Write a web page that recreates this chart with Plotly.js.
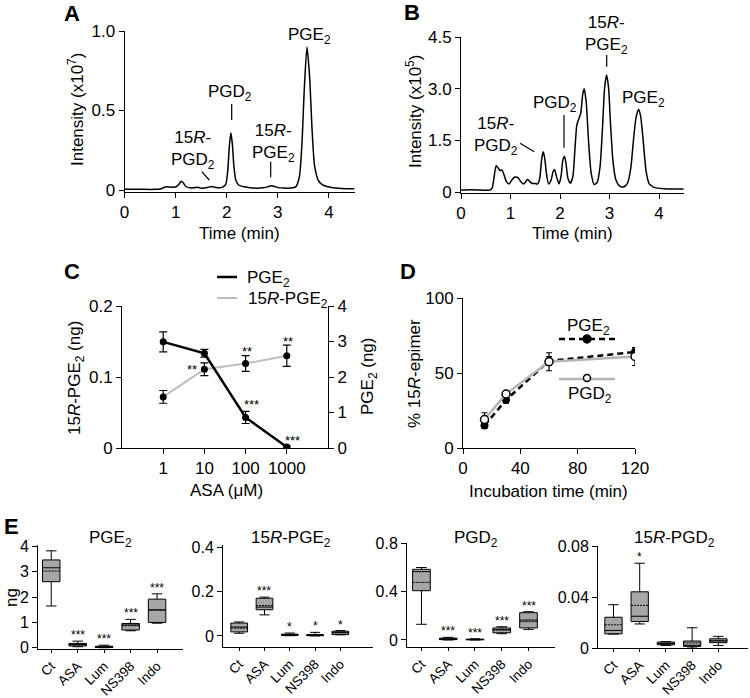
<!DOCTYPE html>
<html><head><meta charset="utf-8">
<script src="https://cdn.plot.ly/plotly-3.0.1.min.js"></script>
<style>html,body{margin:0;padding:0;background:#fff}#chart{width:750px;height:698px}</style>
</head><body><div id="chart"></div>
<script>
// ---------- DATA ----------
// Panel A: chromatogram, intensity x10^7
const timeA = [0.00,0.30,0.60,0.70,0.76,0.82,0.88,0.95,1.02,1.07,1.11,1.15,1.20,1.28,1.36,1.42,1.48,1.55,1.62,1.70,1.76,1.84,1.92,1.98,2.02,2.05,2.08,2.11,2.14,2.18,2.24,2.35,2.50,2.65,2.75,2.82,2.88,2.94,3.00,3.12,3.25,3.35,3.42,3.47,3.52,3.57,3.62,3.67,3.72,3.80,3.90,4.05,4.25,4.50];
const intensityA = [0.004,0.004,0.004,0.006,0.014,0.020,0.019,0.017,0.022,0.038,0.055,0.045,0.022,0.014,0.014,0.018,0.013,0.012,0.016,0.022,0.018,0.014,0.018,0.035,0.12,0.27,0.36,0.29,0.15,0.06,0.03,0.02,0.013,0.012,0.015,0.022,0.027,0.022,0.015,0.012,0.013,0.02,0.08,0.28,0.65,0.90,0.72,0.38,0.15,0.055,0.028,0.015,0.010,0.008];
// Panel B: chromatogram, intensity x10^5
const timeB = [0.00,0.20,0.40,0.58,0.63,0.67,0.71,0.75,0.79,0.83,0.87,0.92,0.97,1.03,1.09,1.15,1.21,1.26,1.30,1.34,1.38,1.43,1.50,1.55,1.59,1.63,1.66,1.69,1.73,1.77,1.82,1.86,1.89,1.93,1.98,2.02,2.06,2.09,2.12,2.16,2.21,2.26,2.30,2.34,2.38,2.42,2.46,2.49,2.53,2.58,2.63,2.69,2.75,2.81,2.86,2.90,2.94,2.98,3.02,3.07,3.13,3.20,3.28,3.36,3.43,3.49,3.54,3.59,3.63,3.68,3.74,3.80,3.90,4.10,4.30,4.50];
const intensityB = [0.06,0.07,0.06,0.06,0.12,0.45,0.77,0.70,0.63,0.64,0.50,0.30,0.24,0.36,0.44,0.42,0.30,0.24,0.28,0.37,0.32,0.26,0.25,0.24,0.40,0.95,1.17,1.00,0.50,0.24,0.35,0.60,0.66,0.45,0.24,0.45,0.95,1.04,0.85,0.40,0.26,0.45,1.20,1.95,2.12,2.30,2.85,3.00,2.60,1.40,0.55,0.22,0.28,0.75,1.90,3.00,3.40,3.05,2.00,0.90,0.35,0.18,0.15,0.25,0.70,1.60,2.20,2.40,2.20,1.50,0.60,0.25,0.14,0.10,0.09,0.09];
// Panel C: ASA dose response
const asaConc = [1, 10, 100, 1000];
const asaTickText = ['1', '10', '100', '1000'];
const pge2Ng = [2.99, 2.67, 0.86, 0.03];
const pge2NgErr = [0.28, 0.11, 0.17, 0.03];
const r15pge2Ng = [0.072, 0.111, 0.119, 0.130];
const r15pge2NgErr = [0.009, 0.009, 0.011, 0.015];
// Panel D: % 15R-epimer over incubation time
const incTime = [15, 30, 60, 120];
const epiPGE2 = [15, 32, 58, 64];
const epiPGE2Err = [2, 2, 3, 2];
const epiPGD2 = [19, 36, 57.5, 61];
const epiPGD2Err = [4.5, 2, 6, 6];
// Panel E: box statistics per treatment
const groups = ['Ct', 'ASA', 'Lum', 'NS398', 'Indo'];
const pge2Low  = [1.65, 0.04, 0.00, 0.67, 0.97];
const pge2Q1   = [2.61, 0.07, 0.01, 0.70, 1.00];
const pge2Med  = [3.16, 0.12, 0.03, 0.90, 1.50];
const pge2Q3   = [3.47, 0.17, 0.06, 0.96, 1.92];
const pge2Up   = [3.83, 0.26, 0.10, 1.12, 2.13];
const pge2Mean = [3.03, 0.13, 0.03, 0.87, 1.48];
const pge2Stars = ['', '***', '***', '***', '***'];
const r15pge2Low  = [0.012, 0.095, 0.001, 0.000, 0.005];
const r15pge2Q1   = [0.018, 0.118, 0.002, 0.001, 0.006];
const r15pge2Med  = [0.040, 0.130, 0.005, 0.004, 0.015];
const r15pge2Q3   = [0.058, 0.170, 0.008, 0.006, 0.021];
const r15pge2Up   = [0.063, 0.175, 0.013, 0.016, 0.024];
const r15pge2Mean = [0.035, 0.137, 0.005, 0.004, 0.014];
const r15pge2Stars = ['', '***', '*', '*', '*'];
const pgd2Low  = [0.130, 0.000, 0.000, 0.052, 0.088];
const pgd2Q1   = [0.408, 0.003, 0.001, 0.060, 0.100];
const pgd2Med  = [0.566, 0.008, 0.004, 0.085, 0.165];
const pgd2Q3   = [0.585, 0.015, 0.007, 0.100, 0.226];
const pgd2Up   = [0.600, 0.022, 0.010, 0.110, 0.234];
const pgd2Mean = [0.477, 0.009, 0.004, 0.083, 0.152];
const pgd2Stars = ['', '***', '***', '***', '***'];
const r15pgd2Low  = [0.0110, 0.0190, 0.0020, 0.0000, 0.0020];
const r15pgd2Q1   = [0.0112, 0.0209, 0.0026, 0.0013, 0.0042];
const r15pgd2Med  = [0.0139, 0.0251, 0.0035, 0.0020, 0.0055];
const r15pgd2Q3   = [0.0243, 0.0444, 0.0047, 0.0055, 0.0073];
const r15pgd2Up   = [0.0342, 0.0670, 0.0050, 0.0160, 0.0092];
const r15pgd2Mean = [0.0183, 0.0337, 0.0035, 0.0040, 0.0060];
const r15pgd2Stars = ['', '*', '', '', ''];

// ---------- LAYOUT HELPERS ----------
const W = 750, H = 698;
const F = 'Liberation Sans, Arial, Helvetica, sans-serif';
const TS = 17;
const dx = (a, b) => [a / W, b / W];
const dy = (top, bot) => [1 - bot / H, 1 - top / H];
function axis(dom, range, o) {
  return Object.assign({domain: dom, range: range, showline: true, linecolor: '#000', linewidth: 1,
    ticks: 'outside', ticklen: 5, tickwidth: 1, tickcolor: '#000', showgrid: false, zeroline: false,
    tickfont: {family: F, size: TS, color: '#000'}, fixedrange: true}, o || {});
}
function ann(text, px, py, o) {
  return Object.assign({text: text, x: px / W, y: 1 - py / H, xref: 'paper', yref: 'paper', showarrow: false,
    xanchor: 'center', yanchor: 'middle', font: {family: F, size: 17, color: '#000'}}, o || {});
}
function seg(x0, y0, x1, y1, line) {
  return {type: 'line', xref: 'paper', yref: 'paper', x0: x0 / W, y0: 1 - y0 / H, x1: x1 / W, y1: 1 - y1 / H,
    line: Object.assign({color: '#000', width: 1.2}, line || {})};
}
function dot(cx, cy, r, fill) {
  return {type: 'circle', xref: 'paper', yref: 'paper', x0: (cx - r) / W, x1: (cx + r) / W,
    y0: 1 - (cy + r) / H, y1: 1 - (cy - r) / H, fillcolor: fill, line: {color: '#000', width: 1.5}};
}

const traces = [];
traces.push({x: timeA, y: intensityA, xaxis: 'x', yaxis: 'y', mode: 'lines',
  line: {color: '#000', width: 1.5, shape: 'spline', smoothing: 0.6}, hoverinfo: 'skip'});
traces.push({x: timeB, y: intensityB, xaxis: 'x2', yaxis: 'y2', mode: 'lines',
  line: {color: '#000', width: 1.5, shape: 'spline', smoothing: 0.6}, hoverinfo: 'skip'});
// C
traces.push({x: asaConc, y: r15pge2Ng, xaxis: 'x3', yaxis: 'y3', mode: 'lines+markers',
  line: {color: '#bdbdbd', width: 2}, marker: {color: '#000', size: 7},
  error_y: {type: 'data', array: r15pge2NgErr, color: '#000', thickness: 1.2, width: 4}});
traces.push({x: asaConc, y: pge2Ng, xaxis: 'x3', yaxis: 'y4', mode: 'lines+markers',
  line: {color: '#000', width: 2.5}, marker: {color: '#000', size: 7},
  error_y: {type: 'data', array: pge2NgErr, color: '#000', thickness: 1.2, width: 4}});
// D
traces.push({x: incTime, y: epiPGE2, xaxis: 'x4', yaxis: 'y5', mode: 'lines+markers',
  line: {color: '#000', width: 2.5, dash: '6px,4px'}, marker: {color: '#000', size: 8},
  error_y: {type: 'data', array: epiPGE2Err, color: '#000', thickness: 1.2, width: 3}});
traces.push({x: incTime, y: epiPGD2, xaxis: 'x4', yaxis: 'y5', mode: 'lines+markers',
  line: {color: '#b5b5b5', width: 2.5}, marker: {color: '#fff', size: 8, line: {color: '#000', width: 1.5}},
  error_y: {type: 'data', array: epiPGD2Err, color: '#000', thickness: 1.2, width: 3}});
// E boxes
const boxSets = [
  [pge2Low, pge2Q1, pge2Med, pge2Q3, pge2Up, pge2Mean, 'x5', 'y6', pge2Stars],
  [r15pge2Low, r15pge2Q1, r15pge2Med, r15pge2Q3, r15pge2Up, r15pge2Mean, 'x6', 'y7', r15pge2Stars],
  [pgd2Low, pgd2Q1, pgd2Med, pgd2Q3, pgd2Up, pgd2Mean, 'x7', 'y8', pgd2Stars],
  [r15pgd2Low, r15pgd2Q1, r15pgd2Med, r15pgd2Q3, r15pgd2Up, r15pgd2Mean, 'x8', 'y9', r15pgd2Stars]
];
const annotations = [];
boxSets.forEach(s => {
  traces.push({type: 'box', x: groups, lowerfence: s[0], q1: s[1], median: s[2], q3: s[3], upperfence: s[4],
    mean: s[5], boxmean: true, xaxis: s[6], yaxis: s[7], fillcolor: '#a6a6a6',
    line: {color: '#000', width: 1}, width: 0.66, whiskerwidth: 0.6, boxpoints: false, hoverinfo: 'skip'});
  groups.forEach((g, i) => {
    if (s[8][i]) annotations.push({text: s[8][i], x: g, y: s[4][i], xref: s[6], yref: s[7], showarrow: false,
      xanchor: 'center', yanchor: 'bottom', yshift: -3, font: {family: F, size: 12, color: '#000'}});
  });
});

const big = {family: F, size: 22, color: '#000'};
const star = {family: F, size: 13, color: '#000'};
annotations.push(
  ann('<b>A</b>', 72, 14, {font: big}),
  ann('<b>B</b>', 412, 13, {font: big}),
  ann('<b>C</b>', 72, 271, {font: big}),
  ann('<b>D</b>', 408, 271, {font: big}),
  ann('<b>E</b>', 11, 526, {font: big}),
  // A
  ann('Intensity (x10<sup>7</sup>)', 76, 110, {textangle: -90}),
  ann('Time (min)', 239, 233),
  ann('PGE<sub>2</sub>', 309, 36),
  ann('PGD<sub>2</sub>', 230, 93),
  ann('15<i>R</i>-<br>PGD<sub>2</sub>', 193, 150),
  ann('15<i>R</i>-<br>PGE<sub>2</sub>', 273, 143),
  // B
  ann('Intensity (x10<sup>5</sup>)', 414, 112, {textangle: -90}),
  ann('Time (min)', 572, 233),
  ann('15<i>R</i>-<br>PGE<sub>2</sub>', 606, 35),
  ann('PGE<sub>2</sub>', 643, 99),
  ann('PGD<sub>2</sub>', 555, 104),
  ann('15<i>R</i>-<br>PGD<sub>2</sub>', 496, 136),
  // C
  ann('15<i>R</i>-PGE<sub>2</sub> (ng)', 76, 378, {textangle: -90}),
  ann('PGE<sub>2</sub> (ng)', 369, 376, {textangle: -90}),
  ann('ASA (μM)', 227, 490),
  ann('PGE<sub>2</sub>', 245, 279, {xanchor: 'left'}),
  ann('15<i>R</i>-PGE<sub>2</sub>', 246, 300, {xanchor: 'left'}),
  ann('**', 192, 369, {font: star}),
  ann('**', 247, 351, {font: star}),
  ann('**', 288, 341, {font: star}),
  ann('***', 251, 405, {font: star}),
  ann('***', 292, 440, {font: star}),
  // D
  ann('% 15<i>R</i>-epimer', 414, 374, {textangle: -90}),
  ann('Incubation time (min)', 548, 491),
  ann('PGE<sub>2</sub>', 588, 327),
  ann('PGD<sub>2</sub>', 590, 395),
  // E
  ann('ng', 11, 598, {textangle: -90}),
  ann('PGE<sub>2</sub>', 110, 539),
  ann('15<i>R</i>-PGE<sub>2</sub>', 291, 539),
  ann('PGD<sub>2</sub>', 476, 539),
  ann('15<i>R</i>-PGD<sub>2</sub>', 674, 539)
);

const shapes = [
  // A leaders
  seg(231.7, 104, 231.7, 120), seg(201.7, 171.7, 209.3, 180), seg(270.7, 161.7, 270.7, 177.3),
  // B leaders
  seg(606.7, 55, 606.7, 66.7), seg(564, 115, 564, 147.7), seg(520, 143.3, 534.3, 151.7),
  // C legend
  seg(217, 277, 237, 277, {width: 2.5}), seg(217, 298, 237, 298, {color: '#bdbdbd', width: 2}),
  // D legend
  seg(559, 339, 615, 339, {width: 2.5, dash: '6px,4px'}), dot(587, 339, 4, '#000'),
  seg(559, 379, 615, 379, {color: '#b5b5b5', width: 2.5}), dot(587, 378, 3.5, '#fff')
];

const eTickX = {family: F, size: 13.5, color: '#000'};
const eTickY = {family: F, size: 16, color: '#000'};
const eX = {type: 'category', tickangle: -45, tickfont: eTickX, ticklen: 3};
const layout = {
  width: W, height: H, margin: {l: 0, r: 0, t: 0, b: 0}, showlegend: false,
  paper_bgcolor: '#fff', plot_bgcolor: 'rgba(0,0,0,0)',
  xaxis: axis(dx(124.5, 354.5), [0, 4.5], {anchor: 'y', tickvals: [0, 1, 2, 3, 4]}),
  yaxis: axis(dy(31, 192), [-0.0126, 1], {anchor: 'x', tickvals: [0, 0.5, 1], ticktext: ['0', '0.5', '1.0']}),
  xaxis2: axis(dx(461, 683.75), [0, 4.5], {anchor: 'y2', tickvals: [0, 1, 2, 3, 4]}),
  yaxis2: axis(dy(37, 192.5), [-0.01, 4.5], {anchor: 'x2', tickvals: [0, 1.5, 3, 4.5], ticktext: ['0', '1.5', '3.0', '4.5']}),
  xaxis3: axis(dx(122, 328), [-1, 4], {anchor: 'y3', type: 'log', tickvals: asaConc, ticktext: asaTickText}),
  yaxis3: axis(dy(306, 448), [0, 0.2], {anchor: 'x3', tickvals: [0, 0.1, 0.2], ticktext: ['0', '0.1', '0.2']}),
  yaxis4: axis(dy(306, 448), [0, 4], {anchor: 'x3', overlaying: 'y3', side: 'right', tickvals: [0, 1, 2, 3, 4]}),
  xaxis4: axis(dx(463, 635), [0, 120], {anchor: 'y5', tickvals: [0, 40, 80, 120]}),
  yaxis5: axis(dy(298, 448), [0, 100], {anchor: 'x4', tickvals: [0, 50, 100]}),
  xaxis5: axis(dx(38, 183), [-0.5, 4.98], Object.assign({anchor: 'y6'}, eX)),
  yaxis6: axis(dy(545, 649), [-0.05, 4.06], {anchor: 'x5', tickvals: [0, 1, 2, 3, 4], tickfont: eTickY}),
  xaxis6: axis(dx(223, 373), [-0.64, 5.29], Object.assign({anchor: 'y7'}, eX)),
  yaxis7: axis(dy(545, 647), [-0.05, 0.41], {anchor: 'x6', tickvals: [0, 0.2, 0.4], ticktext: ['0', '0.2', '0.4'], tickfont: eTickY}),
  xaxis7: axis(dx(407, 555), [-0.54, 4.99], Object.assign({anchor: 'y8'}, eX)),
  yaxis8: axis(dy(543, 647), [-0.058, 0.803], {anchor: 'x7', tickvals: [0, 0.4, 0.8], ticktext: ['0', '0.4', '0.8'], tickfont: eTickY}),
  xaxis8: axis(dx(598, 748), [-0.59, 5.13], Object.assign({anchor: 'y9'}, eX)),
  yaxis9: axis(dy(546, 648), [0, 0.0806], {anchor: 'x8', tickvals: [0, 0.04, 0.08], ticktext: ['0', '0.04', '0.08'], tickfont: eTickY}),
  annotations: annotations,
  shapes: shapes
};
Plotly.newPlot('chart', traces, layout, {staticPlot: true, displayModeBar: false});
</script>
</body></html>
